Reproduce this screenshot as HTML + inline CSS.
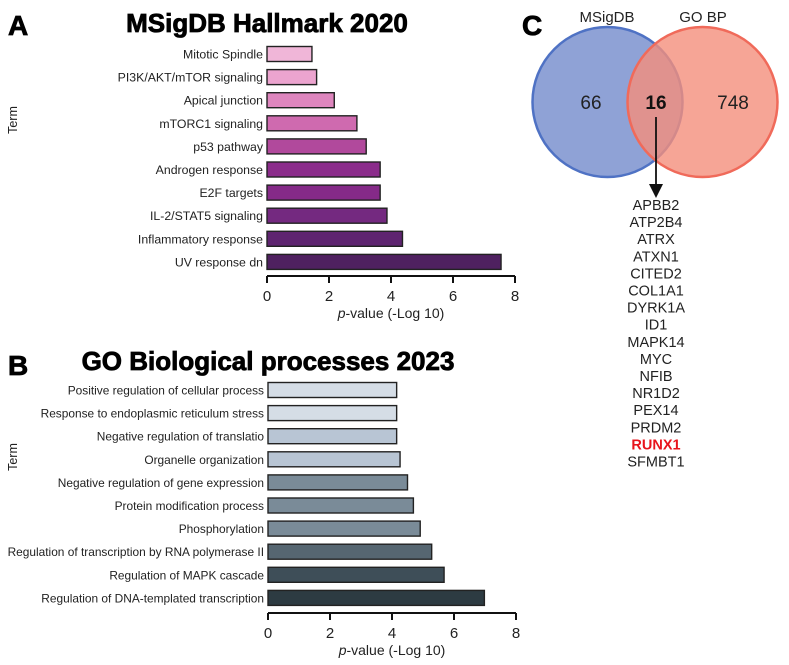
<!DOCTYPE html>
<html><head><meta charset="utf-8"><style>
body{margin:0;background:#fff;width:789px;height:660px;overflow:hidden}
svg{font-family:"Liberation Sans",Arial,sans-serif}
</style></head><body>
<svg id="fig" width="789" height="660" viewBox="0 0 789 660">
<text x="8" y="35" font-size="28" font-weight="bold" stroke="#000" stroke-width="0.8">A</text>
<text x="267" y="32" font-size="26" font-weight="bold" stroke="#000" stroke-width="0.8" text-anchor="middle">MSigDB Hallmark 2020</text>
<text x="8" y="375" font-size="28" font-weight="bold" stroke="#000" stroke-width="0.8">B</text>
<text x="268" y="370" font-size="26" font-weight="bold" stroke="#000" stroke-width="0.8" text-anchor="middle">GO Biological processes 2023</text>
<text x="522" y="35" font-size="28" font-weight="bold" stroke="#000" stroke-width="0.8">C</text>
<g id="chartA"></g>
<g id="chartB"></g>
<g id="venn">
<circle cx="607.5" cy="102" r="75" fill="#7b92cf" fill-opacity="0.85" stroke="#4f72c4" stroke-width="2.5"/>
<circle cx="702.5" cy="102" r="75" fill="#f48e7c" fill-opacity="0.8" stroke="#f06a5a" stroke-width="2.5"/>
<text x="607" y="22" font-size="15" text-anchor="middle" fill="#222">MSigDB</text>
<text x="703" y="22" font-size="15" text-anchor="middle" fill="#222">GO BP</text>
<text x="591" y="109" font-size="19" text-anchor="middle" fill="#222">66</text>
<text x="656" y="109" font-size="19" font-weight="bold" text-anchor="middle" fill="#111">16</text>
<text x="733" y="109" font-size="19" text-anchor="middle" fill="#222">748</text>
<line x1="656" y1="117" x2="656" y2="186" stroke="#111" stroke-width="1.8"/>
<polygon points="649,184 663,184 656,198" fill="#111"/>
<g id="genes"></g>
</g>
</svg>
<script>
const NS="http://www.w3.org/2000/svg";
function mk(p,t,a){const e=document.createElementNS(NS,t);for(const k in a)e.setAttribute(k,a[k]);p.appendChild(e);return e;}

const termsA=["Mitotic Spindle","PI3K/AKT/mTOR  signaling","Apical junction","mTORC1 signaling","p53 pathway","Androgen response","E2F targets","IL-2/STAT5 signaling","Inflammatory response","UV response dn"];
const valuesA=[1.45,1.6,2.17,2.9,3.2,3.65,3.65,3.87,4.37,7.55];
const colorsA=["#f0b6d8","#eca4cf","#de86be","#cf6aaf","#b1499c","#8b2c8b","#852a88","#742980","#5e2470","#4f2160"];
const termsB=["Positive regulation of cellular process","Response to endoplasmic reticulum stress","Negative regulation of translatio","Organelle organization","Negative regulation of gene expression","Protein modification process","Phosphorylation","Regulation of transcription by RNA polymerase II","Regulation of MAPK cascade","Regulation of DNA-templated transcription"];
const valuesB=[4.15,4.15,4.15,4.26,4.5,4.69,4.91,5.28,5.68,6.98];
const colorsB=["#d5dde6","#d5dde6","#b8c5d4","#b8c5d4","#7a8b98","#7a8b98","#7a8b98","#566671","#3e4e58","#2d3b42"];
const ticks=[0,2,4,6,8];
const genes=["APBB2","ATP2B4","ATRX","ATXN1","CITED2","COL1A1","DYRK1A","ID1","MAPK14","MYC","NFIB","NR1D2","PEX14","PRDM2","RUNX1","SFMBT1"];

function chart(g,terms,vals,cols,x0,x1,y0,axisY,termY,fs){
  const xs=v=>x0+(x1-x0)*v/8;
  const step=23.1,bh=15;
  terms.forEach((t,i)=>{
    const cy=y0+i*step;
    const r=mk(g,"rect",{x:xs(0),y:cy-bh/2,width:xs(vals[i])-xs(0),height:bh,fill:cols[i],stroke:"#222","stroke-width":1.4});
    
    
    const tx=mk(g,"text",{x:x0-4,y:cy+4.5,"font-size":fs,"text-anchor":"end",fill:"#222"});tx.textContent=t;
    
    
  });
  const ax=mk(g,"line",{x1:xs(0),x2:xs(8),y1:axisY,y2:axisY,stroke:"#111","stroke-width":2});
  
  
  ticks.forEach(t=>{
    mk(g,"line",{x1:xs(t),x2:xs(t),y1:axisY,y2:axisY+7,stroke:"#111","stroke-width":2});
    const l=mk(g,"text",{x:xs(t),y:axisY+25,"font-size":15,"text-anchor":"middle",fill:"#222"});l.textContent=t;
    
    
  });
  const xt=mk(g,"text",{x:(x0+x1)/2,y:axisY+42,"font-size":14,"text-anchor":"middle",fill:"#222"});
  xt.innerHTML='<tspan font-style="italic">p</tspan>-value (-Log 10)';
  
  
  const yt=mk(g,"text",{x:0,y:0,"font-size":12.5,"text-anchor":"middle",fill:"#222",transform:`translate(17,${termY}) rotate(-90)`});yt.textContent="Term";
  
  
}
chart(document.getElementById("chartA"),termsA,valuesA,colorsA,267,515,54,276,120,12.3);
chart(document.getElementById("chartB"),termsB,valuesB,colorsB,268,516,390,613,457,11.9);
const gg=document.getElementById("genes");
genes.forEach((n,i)=>{
  const red=n==="RUNX1";
  const t=mk(gg,"text",{x:656,y:210+i*17.1,"font-size":14.5,"text-anchor":"middle",fill:red?"#e8141c":"#222","font-weight":red?"bold":"normal"});
  t.textContent=n;
  
  
});
</script>
</body></html>
